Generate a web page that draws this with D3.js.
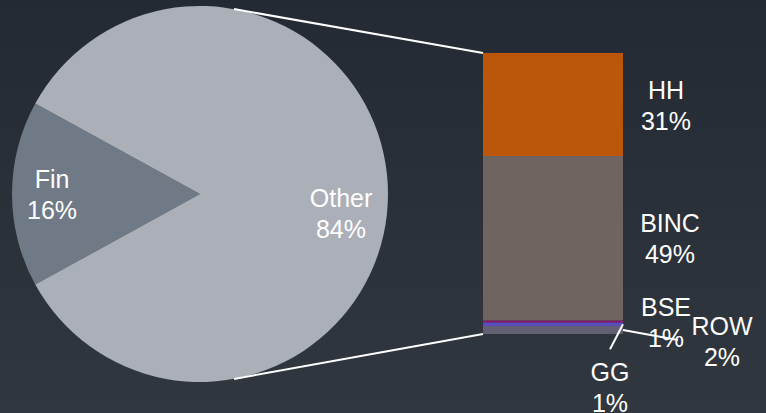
<!DOCTYPE html>
<html>
<head>
<meta charset="utf-8">
<script src="https://cdn.jsdelivr.net/npm/d3@7"></script>
<style>
  html, body { margin: 0; padding: 0; background: #2a3139; }
  svg { display: block; font-family: "Liberation Sans", Arial, sans-serif; }
</style>
</head>
<body>
<svg id="chart" width="766" height="413"></svg>
<script>
// pie slices
var pieNames = ["Fin", "Other"];
var pieValues = [16, 84];
var pieColors = ["#707a86", "#abafb7"];

// breakdown of "Other" (stacked bar, top to bottom)
var barNames = ["HH", "BINC", "BSE", "GG", "ROW"];
var barValues = [30.8, 49.2, 0.6, 1.0, 2.4];
var barColors = ["#bc560a", "#706461", "#8b1a6f", "#5a4fc2", "#625f73"];

var width = 766, height = 413;
var fontSize = 25;
var svg = d3.select("#chart");

var defs = svg.append("defs");
var grad = defs.append("linearGradient")
    .attr("id", "bg").attr("x1", 0).attr("y1", 0).attr("x2", 0).attr("y2", 1);
grad.append("stop").attr("offset", "0%").attr("stop-color", "#242a33");
grad.append("stop").attr("offset", "100%").attr("stop-color", "#30373f");
svg.append("rect").attr("width", width).attr("height", height).attr("fill", "url(#bg)");

// ---- pie
var cx = 200, cy = 194, r = 188;
var finSpan = 2 * Math.PI * pieValues[0] / d3.sum(pieValues);
var start = -Math.PI / 2 - finSpan / 2;
var pie = d3.pie().sort(null).startAngle(start).endAngle(start + 2 * Math.PI);
var arcs = pie(pieValues);
var arc = d3.arc().innerRadius(0).outerRadius(r);
var labelArc = d3.arc().innerRadius(148).outerRadius(148);

var pg = svg.append("g").attr("transform", "translate(" + cx + "," + cy + ")");
pg.selectAll("path").data(arcs).enter().append("path")
    .attr("d", arc)
    .attr("fill", function(d, i) { return pieColors[i]; });

var pieLabelShift = [[0, 0], [-7, 19]];
pg.selectAll("text.pl").data(arcs).enter().append("text")
    .attr("class", "pl")
    .attr("text-anchor", "middle")
    .attr("fill", "#ffffff")
    .attr("font-size", fontSize)
    .each(function(d, i) {
        var c = labelArc.centroid(d);
        var x = c[0] + pieLabelShift[i][0], y = c[1] + pieLabelShift[i][1];
        var t = d3.select(this);
        t.append("tspan").attr("x", x).attr("y", y - 6).text(pieNames[i]);
        t.append("tspan").attr("x", x).attr("y", y + 25).text(Math.round(d.data) + "%");
    });

// ---- stacked bar
var x = d3.scaleBand().domain(["Other"]).range([483, 623]).padding(0);
var y = d3.scaleLinear().domain([0, d3.sum(barValues)]).range([53, 334]);

var stackData = [];
var acc = 0;
barValues.forEach(function(v, i) {
    stackData.push({ name: barNames[i], value: v, y0: acc, y1: acc + v, color: barColors[i] });
    acc += v;
});

svg.append("g").selectAll("rect").data(stackData).enter().append("rect")
    .attr("x", x("Other"))
    .attr("width", x.bandwidth())
    .attr("y", function(d) { return y(d.y0); })
    .attr("height", function(d) { return y(d.y1) - y(d.y0); })
    .attr("fill", function(d) { return d.color; });

// connector lines from pie to bar
var theta = Math.asin(34 / r);
var topPt = [cx + r * Math.sin(theta), cy - r * Math.cos(theta)];
var botPt = [cx + r * Math.sin(theta), cy + r * Math.cos(theta)];
svg.append("line")
    .attr("x1", topPt[0]).attr("y1", topPt[1])
    .attr("x2", x("Other")).attr("y2", y(0))
    .attr("stroke", "#ffffff").attr("stroke-width", 2);
svg.append("line")
    .attr("x1", botPt[0]).attr("y1", botPt[1])
    .attr("x2", x("Other")).attr("y2", y(acc))
    .attr("stroke", "#ffffff").attr("stroke-width", 2);

// bar labels: offsets from bar right edge / segment middle
var barLabelOffset = [[43, 0], [47, 0], [43, 0], [-13, 63], [99, 11]];
var leaders = [null, null, null, [-13, 25], [55, 10]];
var barRight = x("Other") + x.bandwidth();

svg.append("g").selectAll("line").data(stackData).enter()
    .filter(function(d, i) { return leaders[i]; })
    .append("line")
    .attr("x1", barRight)
    .attr("y1", function(d) { return (y(d.y0) + y(d.y1)) / 2; })
    .attr("x2", function(d) { return barRight + leaders[barNames.indexOf(d.name)][0]; })
    .attr("y2", function(d) { return (y(d.y0) + y(d.y1)) / 2 + leaders[barNames.indexOf(d.name)][1]; })
    .attr("stroke", "#ffffff").attr("stroke-width", 2);

svg.append("g").selectAll("text").data(stackData).enter().append("text")
    .attr("text-anchor", "middle")
    .attr("fill", "#ffffff")
    .attr("font-size", fontSize)
    .each(function(d, i) {
        var lx = barRight + barLabelOffset[i][0];
        var ly = (y(d.y0) + y(d.y1)) / 2 + barLabelOffset[i][1];
        var t = d3.select(this);
        t.append("tspan").attr("x", lx).attr("y", ly - 6).text(d.name);
        t.append("tspan").attr("x", lx).attr("y", ly + 25).text(Math.round(d.value) + "%");
    });
</script>
</body>
</html>
